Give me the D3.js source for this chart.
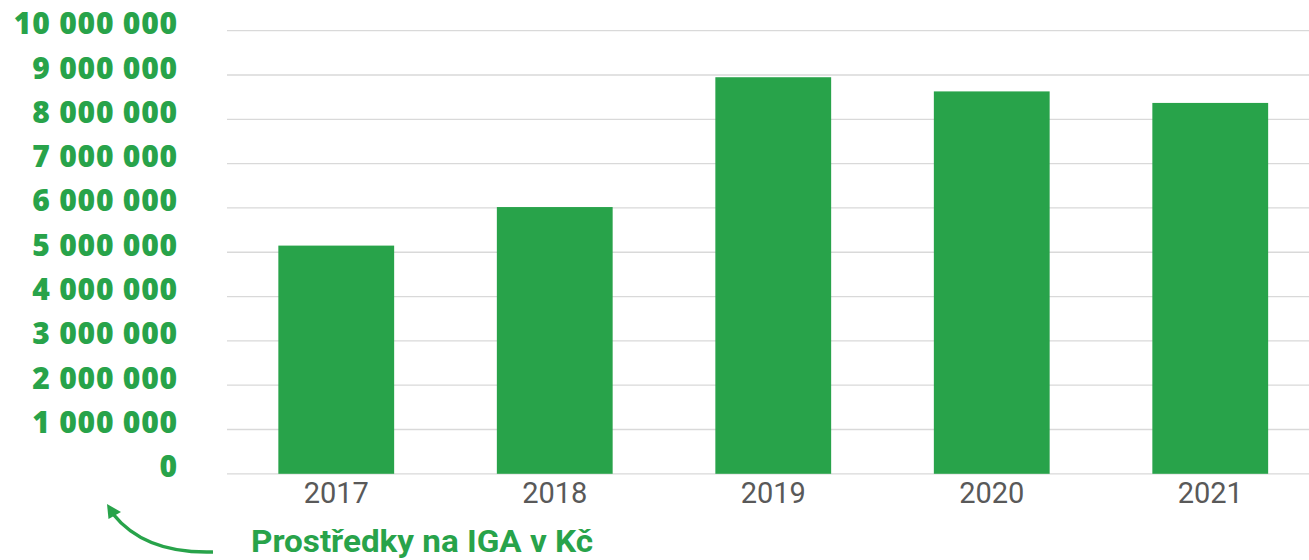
<!DOCTYPE html>
<html>
<head>
<meta charset="utf-8">
<script src="https://cdn.jsdelivr.net/npm/d3@7"></script>
<style>
  body { margin: 0; background: #fff; }
  svg { display: block; }
</style>
</head>
<body>
<div id="chart"></div>
<script>
const years = ["2017", "2018", "2019", "2020", "2021"];
const amounts = [5150000, 6020000, 8950000, 8630000, 8370000];
const yTicks = [0, 1000000, 2000000, 3000000, 4000000, 5000000, 6000000, 7000000, 8000000, 9000000, 10000000];
const caption = "Prostředky na IGA v Kč";

const W = 1309, H = 560;
const margin = {top: 30.7, right: 0, bottom: 86.2, left: 227};
const green = "#28a34a";

const svg = d3.select("#chart")
  .append("svg")
  .attr("width", W)
  .attr("height", H);

const x = d3.scaleBand()
  .domain(years)
  .range([margin.left, margin.left + 5 * 218.5])
  .paddingInner(0.47)
  .paddingOuter(0.235);

const y = d3.scaleLinear()
  .domain([0, 10000000])
  .range([H - margin.bottom, margin.top]);

const fmt = d3.formatLocale({decimal: ",", thousands: " ", grouping: [3], currency: ["", " Kč"]}).format(",d");

// gridlines
svg.append("g")
  .selectAll("line")
  .data(yTicks)
  .join("line")
    .attr("x1", margin.left)
    .attr("x2", W)
    .attr("y1", d => y(d))
    .attr("y2", d => y(d))
    .attr("stroke", "#d9d9d9")
    .attr("stroke-width", 1.3);

// y labels
svg.append("g")
  .selectAll("text")
  .data(yTicks)
  .join("text")
    .attr("x", 178)
    .attr("y", d => y(d) - 7)
    .attr("dy", "0.35em")
    .attr("text-anchor", "end")
    .style("font-family", "'Open Sans', sans-serif")
    .style("font-weight", 800)
    .style("font-size", "30px")
    .style("letter-spacing", "0.8px")
    .attr("fill", green)
    .text(d => fmt(d));

// bars
svg.append("g")
  .selectAll("rect")
  .data(amounts)
  .join("rect")
    .attr("x", (d, i) => x(years[i]))
    .attr("y", d => y(d))
    .attr("width", x.bandwidth())
    .attr("height", d => y(0) - y(d))
    .attr("fill", green);

// x labels
svg.append("g")
  .selectAll("text")
  .data(years)
  .join("text")
    .attr("x", d => x(d) + x.bandwidth() / 2)
    .attr("y", 503)
    .attr("text-anchor", "middle")
    .style("font-family", "Roboto, sans-serif")
    .style("font-size", "29px")
    .attr("fill", "#595959")
    .text(d => d);

// caption with arrow
svg.append("path")
  .attr("d", "M213,552 Q145,554 113,514")
  .attr("fill", "none")
  .attr("stroke", green)
  .attr("stroke-width", 3.5);

svg.append("path")
  .attr("d", "M107,504 L108.5,519 L121,512 Z")
  .attr("fill", green);

svg.append("text")
  .attr("x", 251)
  .attr("y", 552)
  .attr("textLength", 342)
  .attr("lengthAdjust", "spacingAndGlyphs")
  .style("font-family", "Roboto, sans-serif")
  .style("font-weight", 700)
  .style("font-size", "32px")
  .attr("fill", green)
  .text(caption);
</script>
</body>
</html>
